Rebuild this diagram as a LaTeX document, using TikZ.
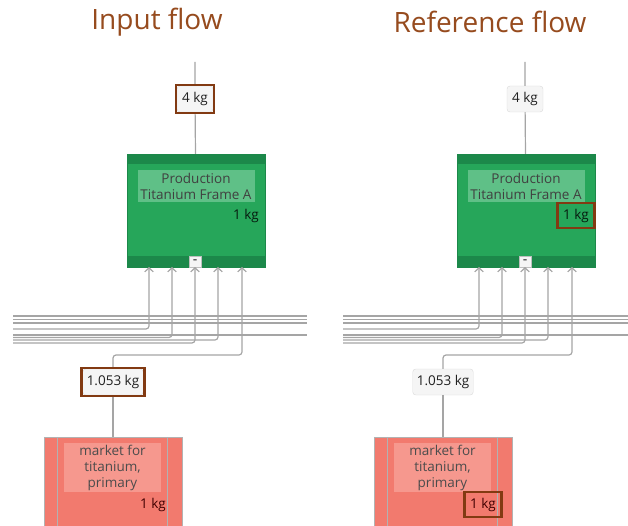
\documentclass[tikz,border=0pt]{standalone}
\usepackage{fontspec}
\setmainfont{Open Sans}
\usetikzlibrary{
    arrows.meta,
    positioning,
    fit,
    calc
}

\begin{document}
\begin{tikzpicture}[x=1pt, y=-1pt,
    title/.style={text=titleColor, font=\fontsize{28}{32}\selectfont},
    amount/.style={draw=gray!30, fill=gray!8, rounded corners=3pt, text=gray!25!black,
        font=\fontsize{13.5}{15}\selectfont, minimum height=26pt, minimum width=36pt, inner xsep=4pt},
    proc/.style={draw=barColor, fill=procColor, minimum width=138pt, minimum height=113pt},
    procname/.style={fill=procLabel, minimum width=117pt, minimum height=32pt, inner sep=0.5pt,
        align=center, text=black!75, font=\fontsize{13.5}{15.5}\selectfont},
    qty/.style={font=\fontsize{13.5}{15}\selectfont, inner sep=2pt},
    minus/.style={draw=gray!50, fill=white!92!gray, minimum size=11.5pt, inner sep=0pt,
        font=\fontsize{8}{8}\selectfont\bfseries},
    market/.style={draw=gray!60, fill=mktColor, minimum width=138pt, minimum height=100pt},
    mktname/.style={fill=mktLabel, minimum width=97pt, minimum height=49pt, inner sep=1pt,
        align=center, text=black!70, font=\fontsize{13.5}{16}\selectfont},
    flow/.style={draw=lineColor, line width=1.2pt, rounded corners=3pt},
    tip/.style={-{Straight Barb[length=4pt, width=8.5pt]}},
    hilite/.style={draw=markColor, line width=2.4pt, inner sep=1pt}
]

\definecolor{titleColor}{RGB}{150,75,30}
\definecolor{markColor}{RGB}{130,58,18}
\definecolor{procColor}{RGB}{38,166,90}
\definecolor{barColor}{RGB}{28,136,74}
\definecolor{procLabel}{RGB}{95,192,135}
\definecolor{mktColor}{RGB}{242,122,110}
\definecolor{mktLabel}{RGB}{246,152,142}
\definecolor{lineColor}{RGB}{165,165,165}

\useasboundingbox (0,0) rectangle (628,526);
\clip (0,0) rectangle (628,526);

% Titles
\node[title] (titleL) at (157,22) {Input flow};
\node[title] (titleR) at (490,22) {Reference flow};

% Both panels
\foreach \p/\dx in {L/0, R/330} {
\begin{scope}[shift={(\dx,0)}]

    % Through flows
    \foreach \i/\y in {1/316, 2/319.5, 3/323, 4/335} {
        \coordinate (west\i\p) at (13,\y);
        \coordinate (east\i\p) at (307,\y);
        \draw[flow] (west\i\p) -- (east\i\p);
    }

    % Production process
    \coordinate (top\p) at (195,62);
    \node[amount] (q4\p) at (195,99) {4 kg};
    \node[proc] (prod\p) at (196,210.5) {};
    \fill[barColor] (prod\p.north west) rectangle ([yshift=-10pt]prod\p.north east);
    \fill[barColor] (prod\p.south west) rectangle ([yshift=11pt]prod\p.south east);
    \node[procname] (pname\p) at (196,186.5) {Production\\Titanium Frame A};
    \node[qty, anchor=east, text=black!80!barColor] (pq\p) at (261,215.5) {1 kg};
    \node[minus] (min\p) at (195,261.5) {--};
    \draw[flow] (top\p) -- (q4\p) -- (prod\p);

    % Input ports
    \foreach \i/\x in {1/149, 2/172, 3/195, 4/218, 5/242}
        \coordinate (port\i\p) at (\x,267);

    % Incoming flows
    \foreach \i/\y in {1/329, 2/337.5, 3/343, 4/340} {
        \coordinate (in\i\p) at (13,\y);
        \draw[flow, tip] (in\i\p) -| (port\i\p);
    }

    % Market process
    \node[amount] (qm\p) at (113,382) {1.053 kg};
    \coordinate (turn\p) at (242,355);
    \draw[flow, tip] (qm\p.north) |- (turn\p) -- (port5\p);
    \node[market] (mkt\p) at (113,487) {};
    \draw[gray!60, line width=1pt] ([xshift=14pt]mkt\p.north west) -- ([xshift=14pt]mkt\p.south west);
    \draw[gray!60, line width=1pt] ([xshift=-15pt]mkt\p.north east) -- ([xshift=-15pt]mkt\p.south east);
    \node[mktname] (mname\p) at (112.5,467.5) {market for\\titanium,\\primary};
    \node[qty, anchor=east, text=black!75!red] (mq\p) at (168,504.5) {1 kg};
    \draw[flow] (qm\p) -- (mkt\p);

\end{scope}
}

% Highlighted amounts
\node[hilite, fit=(q4L)] (hl1) {};
\node[hilite, fit=(qmL)] (hl2) {};
\node[hilite, fit=(pqR), inner sep=3.5pt] (hl3) {};
\node[hilite, fit=(mqR), inner sep=3.5pt] (hl4) {};

\end{tikzpicture}
\end{document}
